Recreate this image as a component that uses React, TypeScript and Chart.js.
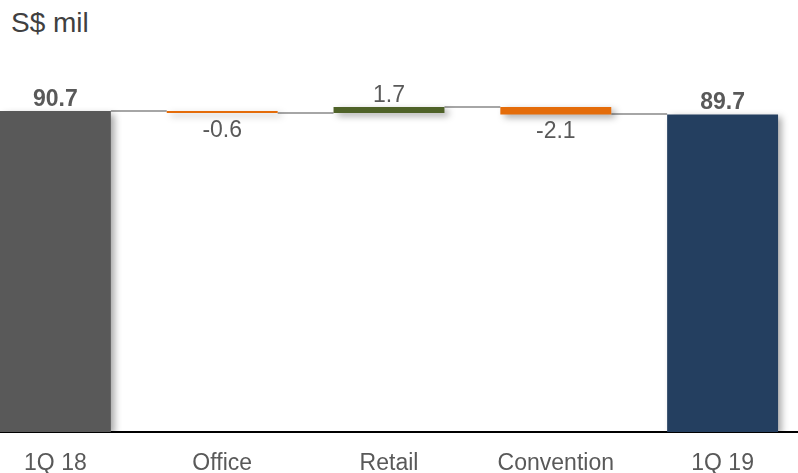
import React, { useEffect, useRef } from "react";
import { Chart, registerables } from "chart.js";

Chart.register(...registerables);

// Revenue bridge, S$ million
const categories = ["1Q 18", "Office", "Retail", "Convention", "1Q 19"];
const openingTotal = 90.7;
const segmentChanges = [-0.6, 1.7, -2.1];
const closingTotal = 89.7;
const barColors = ["#595959", "#E46C0A", "#4F6228", "#E46C0A", "#243F60"];
const yMax = 100;

const FONT = "'Liberation Sans', Arial, sans-serif";

function buildRanges(): { ranges: [number, number][]; levels: number[] } {
  const ranges: [number, number][] = [[0, openingTotal]];
  const levels: number[] = [openingTotal];
  let running = openingTotal;
  for (const c of segmentChanges) {
    const next = +(running + c).toFixed(2);
    ranges.push([running, next]);
    running = next;
    levels.push(running);
  }
  ranges.push([0, closingTotal]);
  return { ranges, levels };
}

const labelValues = [openingTotal, ...segmentChanges, closingTotal];

export default function App() {
  const canvasRef = useRef<HTMLCanvasElement | null>(null);

  useEffect(() => {
    const canvas = canvasRef.current;
    if (!canvas) return;
    const { ranges, levels } = buildRanges();

    const connectorPlugin = {
      id: "connectors",
      beforeDatasetsDraw(chart: any) {
        const { ctx } = chart;
        const meta = chart.getDatasetMeta(0);
        const y = chart.scales.y;
        ctx.save();
        ctx.strokeStyle = "#A6A6A6";
        ctx.lineWidth = 2;
        for (let i = 0; i < levels.length; i++) {
          const a = meta.data[i];
          const b = meta.data[i + 1];
          if (!a || !b) continue;
          const py = Math.round(y.getPixelForValue(levels[i]));
          ctx.beginPath();
          ctx.moveTo(a.x + a.width / 2, py);
          ctx.lineTo(b.x - b.width / 2, py);
          ctx.stroke();
        }
        ctx.restore();
        // soft drop shadow under the bars
        ctx.save();
        ctx.shadowColor = "rgba(0,0,0,0.35)";
        ctx.shadowBlur = 7;
        ctx.shadowOffsetX = 4;
        ctx.shadowOffsetY = 3;
      },
      afterDatasetsDraw(chart: any) {
        const { ctx } = chart;
        ctx.restore();
        const meta = chart.getDatasetMeta(0);
        const y = chart.scales.y;
        ctx.save();
        ctx.fillStyle = "#595959";
        ctx.textAlign = "center";
        ctx.textBaseline = "alphabetic";
        labelValues.forEach((v, i) => {
          const bar = meta.data[i];
          const total = i === 0 || i === labelValues.length - 1;
          ctx.font = `${total ? "bold " : ""}23px ${FONT}`;
          const [lo, hi] = ranges[i];
          const top = y.getPixelForValue(Math.max(lo, hi));
          const bottom = y.getPixelForValue(Math.min(lo, hi));
          if (v >= 0) {
            ctx.fillText(v.toFixed(1), bar.x, top - 5);
          } else {
            ctx.fillText(v.toFixed(1), bar.x, bottom + 24);
          }
        });
        ctx.restore();
      },
    };

    const chart = new Chart(canvas, {
      type: "bar",
      data: {
        labels: categories,
        datasets: [
          {
            data: ranges as any,
            backgroundColor: barColors,
            borderWidth: 0,
            borderSkipped: false,
            barPercentage: 0.665,
            categoryPercentage: 1,
          },
        ],
      },
      options: {
        responsive: false,
        animation: false,
        layout: { padding: { top: 78, bottom: 0, left: 0, right: 0 } },
        plugins: {
          legend: { display: false },
          tooltip: { enabled: false },
        },
        scales: {
          x: {
            grid: { display: false, drawTicks: false },
            border: { display: true, color: "#000000", width: 2 },
            ticks: {
              color: "#595959",
              font: { family: FONT, size: 23 },
              padding: 18,
            },
            afterFit(scale: any) {
              scale.height = 41;
            },
          },
          y: {
            display: false,
            min: 0,
            max: yMax,
          },
        },
      },
      plugins: [connectorPlugin],
    });

    return () => chart.destroy();
  }, []);

  return (
    <div
      style={{
        position: "fixed",
        left: 0,
        top: 0,
        width: 798,
        height: 473,
        overflow: "hidden",
        background: "#ffffff",
      }}
    >
      <div
        style={{
          position: "absolute",
          left: 11,
          top: 7,
          fontFamily: FONT,
          fontSize: 28,
          lineHeight: "32px",
          color: "#404040",
        }}
      >
        S$ mil
      </div>
      <canvas
        ref={canvasRef}
        width={834}
        height={473}
        style={{ position: "absolute", left: -28, top: 0, width: 834, height: 473 }}
      />
    </div>
  );
}
